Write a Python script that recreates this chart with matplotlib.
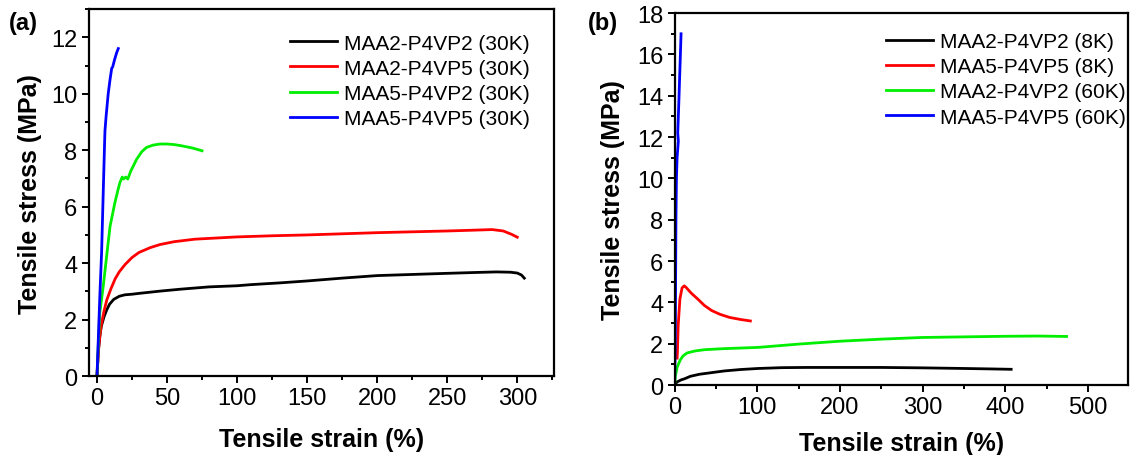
import matplotlib.pyplot as plt
from matplotlib.ticker import MultipleLocator

plt.rcParams["font.family"] = ["Liberation Sans", "DejaVu Sans"]

# panel (a): 30K samples
a_black_x = [0, 1, 2, 3, 5, 7, 9, 12, 16, 20, 25, 30, 45, 60, 80, 100, 110, 130, 150, 175, 200, 225, 250, 270, 285, 295, 300, 303, 305]
a_black_y = [0, 0.9, 1.4, 1.75, 2.1, 2.35, 2.55, 2.72, 2.83, 2.88, 2.9, 2.93, 3.01, 3.08, 3.16, 3.2, 3.24, 3.3, 3.37, 3.47, 3.56, 3.6, 3.64, 3.67, 3.69, 3.68, 3.65, 3.58, 3.47]
a_red_x = [0, 1, 2, 3, 5, 7, 10, 13, 16, 20, 25, 30, 38, 45, 55, 70, 100, 125, 150, 175, 200, 225, 250, 270, 282, 290, 296, 300]
a_red_y = [0, 0.9, 1.4, 1.8, 2.3, 2.7, 3.1, 3.45, 3.7, 3.95, 4.2, 4.38, 4.55, 4.66, 4.76, 4.85, 4.93, 4.97, 5.0, 5.04, 5.08, 5.11, 5.14, 5.17, 5.19, 5.14, 5.02, 4.92]
a_green_x = [0, 1, 2, 4.5, 7, 9.3, 12.8, 15, 16.4, 18, 19, 20.5, 22, 24, 28.3, 32, 35.4, 40, 45, 50, 55, 60, 68, 75]
a_green_y = [0, 1.2, 2.25, 3.2, 4.3, 5.3, 6.15, 6.6, 6.86, 7.05, 6.98, 7.05, 6.98, 7.25, 7.68, 7.95, 8.1, 8.18, 8.22, 8.22, 8.2, 8.16, 8.08, 7.98]
a_blue_x = [0, 1, 2, 3.3, 4.5, 5.5, 5.7, 6.5, 8, 9.3, 10.5, 11.2, 12.5, 14, 15.2]
a_blue_y = [0, 1.4, 2.8, 4.4, 6.6, 8.4, 8.7, 9.2, 10.0, 10.5, 10.9, 10.95, 11.2, 11.45, 11.6]

# panel (b): 8K / 60K samples
b_black_x = [0, 3, 8, 12, 19, 30, 45, 60, 80, 101, 130, 160, 200, 250, 300, 350, 380, 407]
b_black_y = [0, 0.15, 0.25, 0.3, 0.42, 0.52, 0.6, 0.68, 0.75, 0.8, 0.84, 0.85, 0.85, 0.85, 0.83, 0.8, 0.78, 0.76]
b_red_x = [3, 3.4, 4.3, 6.4, 9, 11.6, 14, 20, 28, 36, 45, 55, 66.6, 80, 91.6]
b_red_y = [1.3, 1.6, 2.87, 4.16, 4.7, 4.8, 4.72, 4.45, 4.16, 3.85, 3.6, 3.42, 3.27, 3.17, 3.1]
b_green_x = [0, 1, 3, 6.4, 10, 15, 25, 36.5, 60, 101, 150, 200, 250, 299, 350, 402, 440, 474]
b_green_y = [0, 0.45, 0.85, 1.18, 1.4, 1.55, 1.65, 1.71, 1.76, 1.82, 1.98, 2.12, 2.22, 2.3, 2.33, 2.36, 2.37, 2.35]
b_blue_x = [0, 0.8, 1.2, 1.6, 2.2, 3, 4.5, 3.8, 4.5, 5.2, 6, 7, 7.8]
b_blue_y = [0, 2, 5, 8, 10, 11, 11.8, 12.2, 13, 13.8, 14.8, 16, 17]

a_labels = ["MAA2-P4VP2 (30K)", "MAA2-P4VP5 (30K)", "MAA5-P4VP2 (30K)", "MAA5-P4VP5 (30K)"]
b_labels = ["MAA2-P4VP2 (8K)", "MAA5-P4VP5 (8K)", "MAA2-P4VP2 (60K)", "MAA5-P4VP5 (60K)"]
colors = ["#000000", "#ff0000", "#00ee00", "#0000ff"]

fig = plt.figure(figsize=(11.3, 4.56), dpi=100)
ax1 = fig.add_axes([0.0784, 0.173, 0.4116, 0.805])
ax2 = fig.add_axes([0.597, 0.1535, 0.401, 0.8155])


def style(ax, xpad, ypad):
    for s in ax.spines.values():
        s.set_linewidth(1.6)
    ax.tick_params(which="both", direction="out", width=1.4, labelsize=17,
                   top=False, right=False, pad=3)
    ax.tick_params(which="major", length=5)
    ax.tick_params(which="minor", length=3)
    ax.set_xlabel("Tensile strain (%)", fontsize=18, fontweight="bold", labelpad=xpad)
    ax.set_ylabel("Tensile stress (MPa)", fontsize=18, fontweight="bold", labelpad=ypad)


series_a = [(a_black_x, a_black_y), (a_red_x, a_red_y), (a_green_x, a_green_y), (a_blue_x, a_blue_y)]
for (x, y), c, lab in zip(series_a, colors, a_labels):
    ax1.plot(x, y, color=c, lw=2, label=lab)
ax1.set_xlim(-6, 326)
ax1.set_ylim(0, 13)
ax1.xaxis.set_major_locator(MultipleLocator(50))
ax1.xaxis.set_minor_locator(MultipleLocator(25))
ax1.yaxis.set_major_locator(MultipleLocator(2))
ax1.yaxis.set_minor_locator(MultipleLocator(1))
style(ax1, 13, 7)
ax1.legend(loc="upper left", frameon=False, fontsize=15, handlelength=2.25,
           handletextpad=0.35, labelspacing=0.3, borderaxespad=0,
           bbox_to_anchor=(0.415, 0.956))

series_b = [(b_black_x, b_black_y), (b_red_x, b_red_y), (b_green_x, b_green_y), (b_blue_x, b_blue_y)]
for (x, y), c, lab in zip(series_b, colors, b_labels):
    ax2.plot(x, y, color=c, lw=2, label=lab)
ax2.set_xlim(0, 548)
ax2.set_ylim(0, 18)
ax2.xaxis.set_major_locator(MultipleLocator(100))
ax2.xaxis.set_minor_locator(MultipleLocator(50))
ax2.yaxis.set_major_locator(MultipleLocator(2))
ax2.yaxis.set_minor_locator(MultipleLocator(1))
style(ax2, 9, 9)
ax2.legend(loc="upper left", frameon=False, fontsize=15, handlelength=2.25,
           handletextpad=0.35, labelspacing=0.3, borderaxespad=0,
           bbox_to_anchor=(0.448, 0.972))

fig.text(0.008, 0.935, "(a)", fontsize=17, fontweight="bold")
fig.text(0.52, 0.935, "(b)", fontsize=17, fontweight="bold")

fig.savefig("out.png", dpi=100)
